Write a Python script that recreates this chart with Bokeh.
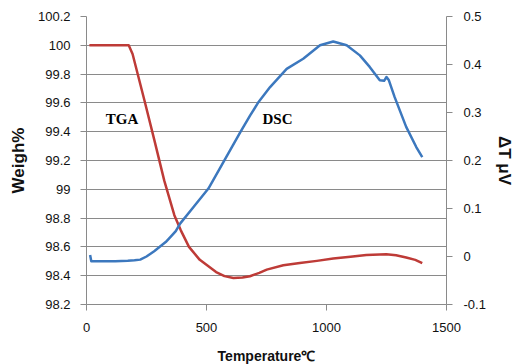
from bokeh.plotting import figure
from bokeh.models import Range1d, LinearAxis, FixedTicker, CustomJSTickFormatter, Label
from bokeh.embed import file_html
from bokeh.resources import INLINE

# TGA (left axis, Weigh%)
tga_temp = [12, 176, 192, 241, 283, 324, 366, 393, 427, 472, 540, 575, 612, 650,
            681, 720, 751, 820, 889, 960, 1028, 1100, 1166, 1249, 1290, 1332, 1370, 1399]
tga_weight = [100.0, 100.0, 99.94, 99.62, 99.34, 99.06, 98.82, 98.715, 98.60, 98.51,
              98.425, 98.397, 98.384, 98.387, 98.396, 98.42, 98.442, 98.472, 98.488,
              98.503, 98.519, 98.532, 98.544, 98.549, 98.542, 98.526, 98.51, 98.488]

# DSC (right axis, ΔT μV)
dsc_temp = [15, 20, 60, 120, 172, 200, 224, 250, 282, 330, 356, 372, 390, 446, 508, 571,
            641, 682, 717, 765, 834, 903, 973, 1028, 1084, 1139, 1180, 1222, 1240, 1250,
            1260, 1284, 1332, 1374, 1399]
dsc_value = [0.003, -0.010, -0.010, -0.010, -0.009, -0.008, -0.0065, 0.000, 0.011, 0.030,
             0.044, 0.053, 0.0685, 0.103, 0.1415, 0.197, 0.259, 0.294, 0.322, 0.353,
             0.391, 0.412, 0.440, 0.448, 0.440, 0.419, 0.395, 0.367, 0.366, 0.374,
             0.367, 0.332, 0.270, 0.228, 0.207]

x_ticks = [0, 500, 1000, 1500]
left_ticks = [98.2, 98.4, 98.6, 98.8, 99.0, 99.2, 99.4, 99.6, 99.8, 100.0, 100.2]
right_ticks = [-0.1, 0.0, 0.1, 0.2, 0.3, 0.4, 0.5]

GRID = "#8a8a8a"
RED = "#BE3B37"
BLUE = "#3C78BE"
TICK_FONT = "Liberation Sans"
LABEL_FONT = "Liberation Sans"

p = figure(frame_width=360, frame_height=288,
           min_border_left=86, min_border_right=67, min_border_top=16, min_border_bottom=60,
           x_range=Range1d(0, 1500), y_range=Range1d(98.2, 100.2),
           output_backend="svg", toolbar_location=None)
p.extra_y_ranges = {"dsc": Range1d(-0.1, 0.5)}
p.outline_line_color = None
p.background_fill_color = "white"
p.border_fill_color = "white"

fmt = CustomJSTickFormatter(code="return (Math.round(tick*10)/10).toFixed(1).replace(/\\.0$/, '').replace(/^-0$/, '0');")

p.xgrid.grid_line_color = None
p.ygrid.grid_line_color = GRID
p.ygrid.grid_line_width = 1
p.ygrid.ticker = FixedTicker(ticks=left_ticks)

def style_axis(ax, standoff, label_standoff, label_size):
    ax.axis_line_color = GRID
    ax.axis_line_width = 1
    ax.major_tick_line_color = GRID
    ax.major_tick_out = 6
    ax.major_tick_in = 0
    ax.minor_tick_line_color = None
    ax.major_label_text_font = TICK_FONT
    ax.major_label_text_font_size = "13px"
    ax.major_label_text_color = "#111111"
    ax.major_label_standoff = standoff
    ax.axis_label_text_font = LABEL_FONT
    ax.axis_label_text_font_style = "bold"
    ax.axis_label_text_font_size = label_size
    ax.axis_label_text_color = "#111111"
    ax.axis_label_standoff = label_standoff

xa = p.xaxis[0]
xa.ticker = FixedTicker(ticks=x_ticks)
xa.axis_label = "Temperature℃"
style_axis(xa, 12, 13, "14px")

ya = p.yaxis[0]
ya.ticker = FixedTicker(ticks=left_ticks)
ya.formatter = fmt
ya.axis_label = "Weigh%"
style_axis(ya, 10, 7, "17px")

ra = LinearAxis(y_range_name="dsc", ticker=FixedTicker(ticks=right_ticks), formatter=fmt,
                axis_label="ΔT μV")
style_axis(ra, 11, 6, "17px")
p.add_layout(ra, "right")

p.line(tga_temp, tga_weight, line_color=RED, line_width=2.5, line_join="round")
p.line(dsc_temp, dsc_value, line_color=BLUE, line_width=2.5, line_join="round",
       y_range_name="dsc")

for txt, xx in (("TGA", 148), ("DSC", 796)):
    p.add_layout(Label(x=xx, y=99.49, text=txt, text_font="Liberation Serif",
                       text_font_style="bold", text_font_size="15px", text_align="center",
                       text_baseline="middle", text_color="#000000"))

open("out.html", "w").write(file_html(p, INLINE))
